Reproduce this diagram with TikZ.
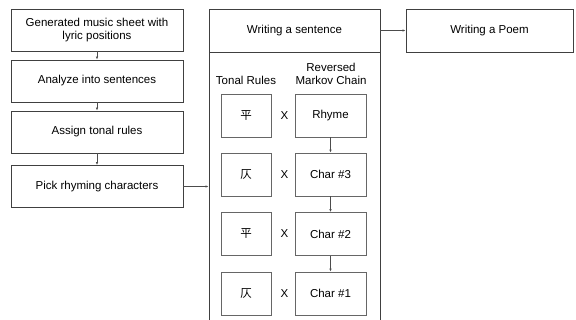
\documentclass[tikz,border=0pt]{standalone}
\usepackage{fontspec}
\setmainfont{Liberation Sans}
\newfontfamily\cjk{Noto Sans CJK SC}
\usepackage{tikz}
\usetikzlibrary{positioning,calc,arrows.meta}
\tikzstyle{stage}= [rectangle, draw=black!75, line width=0.9pt, minimum width=172pt, minimum height=42pt, inner sep=2pt, align=center, font=\fontsize{11.5}{13}\selectfont]
\tikzstyle{cell}= [rectangle, draw=black!60, line width=0.8pt, minimum height=43pt, inner sep=2pt, font=\fontsize{11.5}{13}\selectfont]
\tikzstyle{lbl}= [inner sep=0pt, align=center, font=\fontsize{11.5}{13}\selectfont]
\tikzstyle{flow}= [draw=black!70, line width=0.6pt, -{Latex[length=3pt,width=2.5pt]}]

\begin{document}
\begin{tikzpicture}[x=1pt,y=1pt]
						\useasboundingbox (0,0) rectangle (576,320);
						\node[stage] (s1) at (97, 290) {Generated music sheet with\\lyric positions};
						\node[stage] (s2) at (97, 239) {Analyze into sentences};
						\node[stage] (s3) at (97, 188) {Assign tonal rules};
						\node[stage] (s4) at (97, 133.5) {Pick rhyming characters};
						\node[stage, minimum width=171pt, minimum height=330pt, anchor=north] (frame) at (294.5, 311) {};
						\node[stage, minimum width=171pt, minimum height=43pt] (head) at (294.5, 289.5) {Writing a sentence};
						\node[stage, minimum width=167pt, minimum height=43pt] (poem) at (489.5, 289.5) {Writing a Poem};
						\node[lbl] (tr) at (246, 240) {Tonal Rules};
						\node[lbl] (rm) at (331, 246) {Reversed\\Markov Chain};
						\node[cell, minimum width=50pt] (t1) at (246, 204.5) {\cjk 平};
						\node[cell, minimum width=50pt] (t2) at (246, 145.5) {\cjk 仄};
						\node[cell, minimum width=50pt] (t3) at (246, 86) {\cjk 平};
						\node[cell, minimum width=50pt] (t4) at (246, 26.5) {\cjk 仄};
						\node[cell, minimum width=71pt] (m1) at (330.5, 204.5) {Rhyme};
						\node[cell, minimum width=71pt] (m2) at (330.5, 145.5) {Char \#3};
						\node[cell, minimum width=71pt] (m3) at (330.5, 86) {Char \#2};
						\node[cell, minimum width=71pt] (m4) at (330.5, 26.5) {Char \#1};
						\node[lbl] (x1) at (284.5, 204.5) {X};
						\node[lbl] (x2) at (284.5, 145.5) {X};
						\node[lbl] (x3) at (284.5, 86) {X};
						\node[lbl] (x4) at (284.5, 26.5) {X};
						\draw[flow](s1) -- (s2);
						\draw[flow](s2) -- (s3);
						\draw[flow](s3) -- (s4);
						\draw[flow](s4.east) -- (s4.east -| frame.west);
						\draw[flow](head) -- (poem);
						\draw[flow](m1) -- (m2);
						\draw[flow](m2) -- (m3);
						\draw[flow](m3) -- (m4);
					\end{tikzpicture}
\end{document}
